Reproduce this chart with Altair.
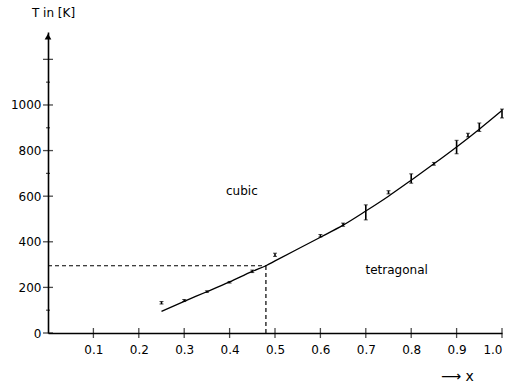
import altair as alt
import pandas as pd

# measured points with error bars (x, T low, T high)
pt_x  = [0.25, 0.30, 0.35, 0.40, 0.45, 0.50, 0.60, 0.65, 0.70, 0.75, 0.80, 0.85, 0.90, 0.925, 0.95, 1.00]
pt_lo = [127, 138, 178, 219, 265, 336, 421, 468, 496, 610, 657, 736, 786, 860, 884, 943]
pt_hi = [138, 147, 185, 226, 276, 350, 432, 482, 562, 624, 698, 748, 845, 876, 921, 982]

# fitted curve
cx = [0.25, 0.30, 0.35, 0.40, 0.45, 0.48, 0.50, 0.60, 0.65, 0.70, 0.75, 0.80, 0.85, 0.90, 0.95, 1.00]
cT = [95, 139, 181, 224, 270, 295, 316, 420, 473, 535, 600, 670, 742, 816, 894, 976]

# transition point at room temperature
tx, tT = 0.48, 295

x_ticks = [0.1, 0.2, 0.3, 0.4, 0.5, 0.6, 0.7, 0.8, 0.9, 1.0]
y_major = [0, 200, 400, 600, 800, 1000, 1200]
y_minor = [100, 700, 900, 1100]
y_labels = [0, 200, 400, 600, 800, 1000]

FONT = "DejaVu Sans"
xs = alt.Scale(domain=[0, 1], nice=False, zero=False)
ys = alt.Scale(domain=[0, 1320], nice=False)

pts = pd.DataFrame({"x": pt_x, "lo": pt_lo, "hi": pt_hi})
curve = pd.DataFrame({"x": cx, "T": cT})

base_axes = alt.Chart(pd.DataFrame({"x": [0], "y": [0]})).mark_point(opacity=0).encode(
    x=alt.X("x:Q", scale=xs,
            axis=alt.Axis(values=x_ticks, format=".1f", ticks=False, grid=False,
                          domainColor="black", domainWidth=1.6, labelFont=FONT,
                          labelFontSize=12, labelColor="black", labelPadding=11,
                          title="⟶  x", titleFont=FONT, titleFontSize=14,
                          titleFontWeight="normal", titleX=409, titleY=43,
                          titleAlign="center", titleBaseline="middle")),
    y=alt.Y("y:Q", scale=ys,
            axis=alt.Axis(values=y_labels, format="d", ticks=False, grid=False,
                          domainColor="black", domainWidth=1.6, labelFont=FONT,
                          labelFontSize=12, labelColor="black", labelPadding=7,
                          title="T in [K]", titleFont=FONT, titleFontSize=12,
                          titleFontWeight="normal", titleAngle=0, titleX=5, titleY=-20,
                          titleAlign="center", titleBaseline="middle")),
)

xt = alt.Chart(pd.DataFrame({"x": x_ticks, "y": [0] * len(x_ticks)})).mark_tick(
    orient="vertical", size=10, thickness=1.3, color="black").encode(
    x=alt.X("x:Q", scale=xs), y=alt.Y("y:Q", scale=ys))

yt = alt.Chart(pd.DataFrame({"x": [0] * len(y_major), "y": y_major})).mark_tick(
    orient="horizontal", size=10, thickness=1.3, color="black").encode(
    x=alt.X("x:Q", scale=xs), y=alt.Y("y:Q", scale=ys))

ytm = alt.Chart(pd.DataFrame({"x": [0] * len(y_minor), "y": y_minor})).mark_tick(
    orient="horizontal", size=4, thickness=1.2, color="black").encode(
    x=alt.X("x:Q", scale=xs), y=alt.Y("y:Q", scale=ys))

arrow = alt.Chart(pd.DataFrame({"x": [0], "y": [1300]})).mark_point(
    shape="triangle-up", filled=True, size=45, color="black", opacity=1).encode(
    x=alt.X("x:Q", scale=xs), y=alt.Y("y:Q", scale=ys))

hdash = alt.Chart(pd.DataFrame({"x": [0], "x2": [tx], "y": [tT]})).mark_rule(
    strokeDash=[4, 3], strokeWidth=1.2, color="black").encode(
    x=alt.X("x:Q", scale=xs), x2="x2:Q", y=alt.Y("y:Q", scale=ys))

vdash = alt.Chart(pd.DataFrame({"x": [tx], "y": [0], "y2": [tT]})).mark_rule(
    strokeDash=[4, 3], strokeWidth=1.2, color="black").encode(
    x=alt.X("x:Q", scale=xs), y=alt.Y("y:Q", scale=ys), y2="y2:Q")

line = alt.Chart(curve).mark_line(interpolate="monotone", color="black", strokeWidth=1.3).encode(
    x=alt.X("x:Q", scale=xs), y=alt.Y("T:Q", scale=ys))

bars = alt.Chart(pts).mark_rule(color="black", strokeWidth=1.6).encode(
    x=alt.X("x:Q", scale=xs), y=alt.Y("lo:Q", scale=ys), y2="hi:Q")

cap_lo = alt.Chart(pts).mark_tick(orient="horizontal", size=4, thickness=1, color="black").encode(
    x=alt.X("x:Q", scale=xs), y=alt.Y("lo:Q", scale=ys))
cap_hi = alt.Chart(pts).mark_tick(orient="horizontal", size=4, thickness=1, color="black").encode(
    x=alt.X("x:Q", scale=xs), y=alt.Y("hi:Q", scale=ys))

labels = alt.Chart(pd.DataFrame({"x": [0.427, 0.768], "y": [624, 278],
                                 "t": ["cubic", "tetragonal"]})).mark_text(
    font=FONT, fontSize=12, color="black", align="center", baseline="middle").encode(
    x=alt.X("x:Q", scale=xs), y=alt.Y("y:Q", scale=ys), text="t:N")

chart = alt.layer(base_axes, hdash, vdash, line, bars, cap_lo, cap_hi, xt, yt, ytm, arrow, labels).properties(
    width=454, height=301,
    autosize=alt.AutoSizeParams(type="none"),
    padding={"left": 48, "top": 32, "right": 11, "bottom": 51},
    background="white",
).configure_view(stroke=None)

chart.save("out.html", embed_options={"renderer": "svg", "actions": False})
